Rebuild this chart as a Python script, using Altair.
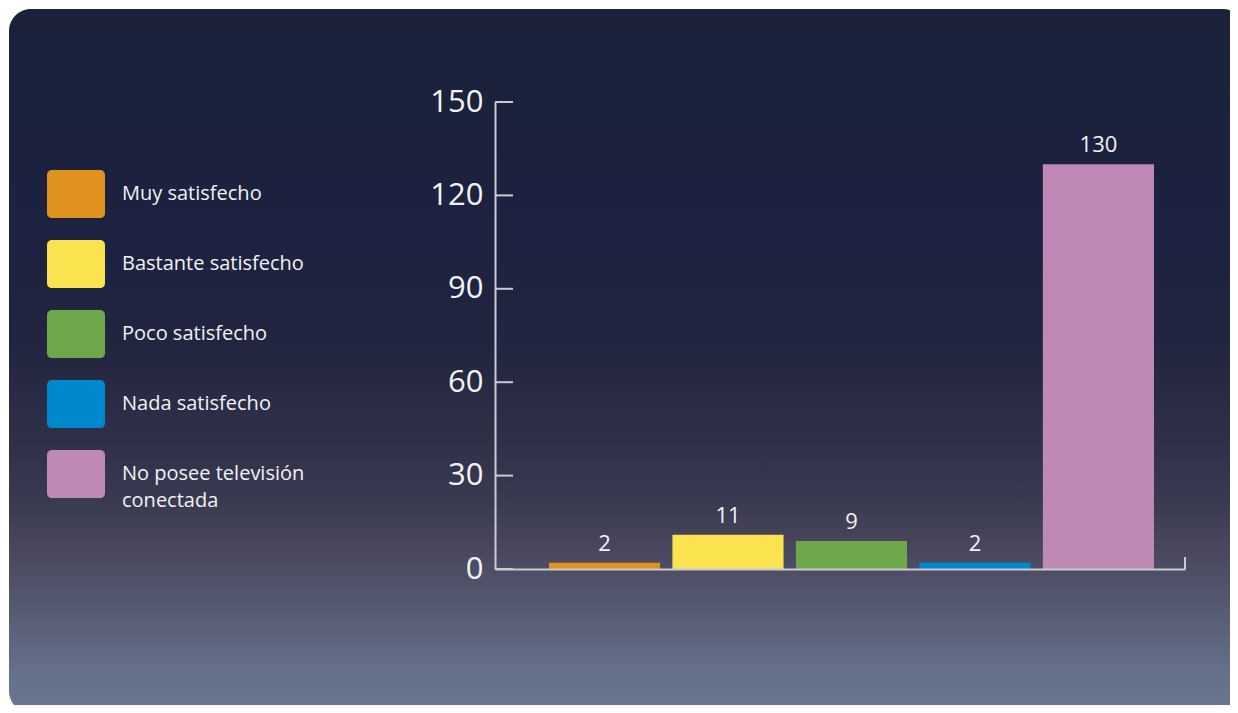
import altair as alt
import pandas as pd

categories = ["Muy satisfecho", "Bastante satisfecho", "Poco satisfecho",
              "Nada satisfecho", "No posee televisión conectada"]
values = [2, 11, 9, 2, 130]
colors = ["#e0921f", "#fbe34f", "#6fa84a", "#0088cf", "#bf89b5"]
y_ticks = [0, 30, 60, 90, 120, 150]

W, H = 690, 467
PAD = {"left": 487, "top": 94, "right": 45, "bottom": 136}
AXIS_COLOR = "#c9cbd4"
TEXT_COLOR = "#f2f2f4"
FONT = "Open Sans"

bars_df = pd.DataFrame({"cat": categories, "value": values})
ticks_df = pd.DataFrame({"t": y_ticks})
one_df = pd.DataFrame({"a": [0]})

gradient = {
    "gradient": "linear", "x1": 0, "x2": 0, "y1": 0, "y2": 1,
    "stops": [
        {"offset": 0.0, "color": "#1a2139"},
        {"offset": 0.33, "color": "#1c2240"},
        {"offset": 0.47, "color": "#22253f"},
        {"offset": 0.61, "color": "#2f3048"},
        {"offset": 0.71, "color": "#3b3c52"},
        {"offset": 0.75, "color": "#46435a"},
        {"offset": 0.85, "color": "#555a70"},
        {"offset": 0.94, "color": "#65708a"},
        {"offset": 1.0, "color": "#6a7690"},
    ],
}

background = alt.Chart(one_df).mark_rect(fill=gradient, cornerRadius=22).encode(
    x=alt.value(-486), x2=alt.value(W + 60),
    y=alt.value(-93), y2=alt.value(H + 144),
)

rrect = ("M-0.83,-0.83 L0.83,-0.83 A0.17,0.17 0 0 1 1,-0.66 L1,0.66 "
         "A0.17,0.17 0 0 1 0.83,0.83 L-0.83,0.83 A0.17,0.17 0 0 1 -1,0.66 "
         "L-1,-0.66 A0.17,0.17 0 0 1 -0.83,-0.83 Z")

x_enc = alt.X("cat:N", sort=categories,
              scale=alt.Scale(paddingInner=0.1, paddingOuter=0.344, align=0.635),
              axis=alt.Axis(title=None, labels=False, ticks=False, zindex=1,
                            domainColor=AXIS_COLOR, domainWidth=2))
y_enc = alt.Y("value:Q", scale=alt.Scale(domain=[0, 150], nice=False),
              axis=alt.Axis(values=y_ticks, title=None, grid=False, ticks=False,
                            tickSize=0, zindex=1, domainColor=AXIS_COLOR, domainWidth=2,
                            labelColor=TEXT_COLOR, labelFont=FONT, labelFontSize=31,
                            labelFontWeight="normal", labelPadding=12))

bars = alt.Chart(bars_df).mark_bar().encode(
    x=x_enc,
    y=y_enc,
    color=alt.Color("cat:N", scale=alt.Scale(domain=categories, range=colors),
                    legend=alt.Legend(
                        orient="none", legendX=-448, legendY=63, title=None,
                        symbolType=rrect, symbolSize=3364, symbolStrokeWidth=0,
                        symbolOpacity=1, labelFont=FONT, labelFontSize=20,
                        labelColor=TEXT_COLOR, labelOffset=17, rowPadding=16,
                        labelLimit=400, zindex=1,
                        labelExpr="datum.label == 'No posee televisión conectada' ? ['No posee televisión', 'conectada'] : datum.label",
                    )),
)

labels = alt.Chart(bars_df).mark_text(
    font=FONT, fontSize=22, color=TEXT_COLOR, baseline="alphabetic", dy=-12
).encode(x=alt.X("cat:N", sort=categories), y="value:Q", text="value:Q")

ticks = alt.Chart(ticks_df).mark_rule(color=AXIS_COLOR, strokeWidth=2).encode(
    y=alt.Y("t:Q"), x=alt.value(0), x2=alt.value(18)
)

end_tick = alt.Chart(one_df).mark_rule(color=AXIS_COLOR, strokeWidth=2).encode(
    x=alt.value(W), y=alt.value(H - 12), y2=alt.value(H)
)

chart = alt.layer(background, bars, labels, ticks, end_tick).properties(
    width=W, height=H, padding=PAD,
    autosize=alt.AutoSizeParams(type="none"),
    background="white",
).configure(
    view={"stroke": None},
    style={"guide-label": {"lineHeight": 27}},
)

chart.save("out.html", embed_options={"renderer": "svg", "actions": False})
